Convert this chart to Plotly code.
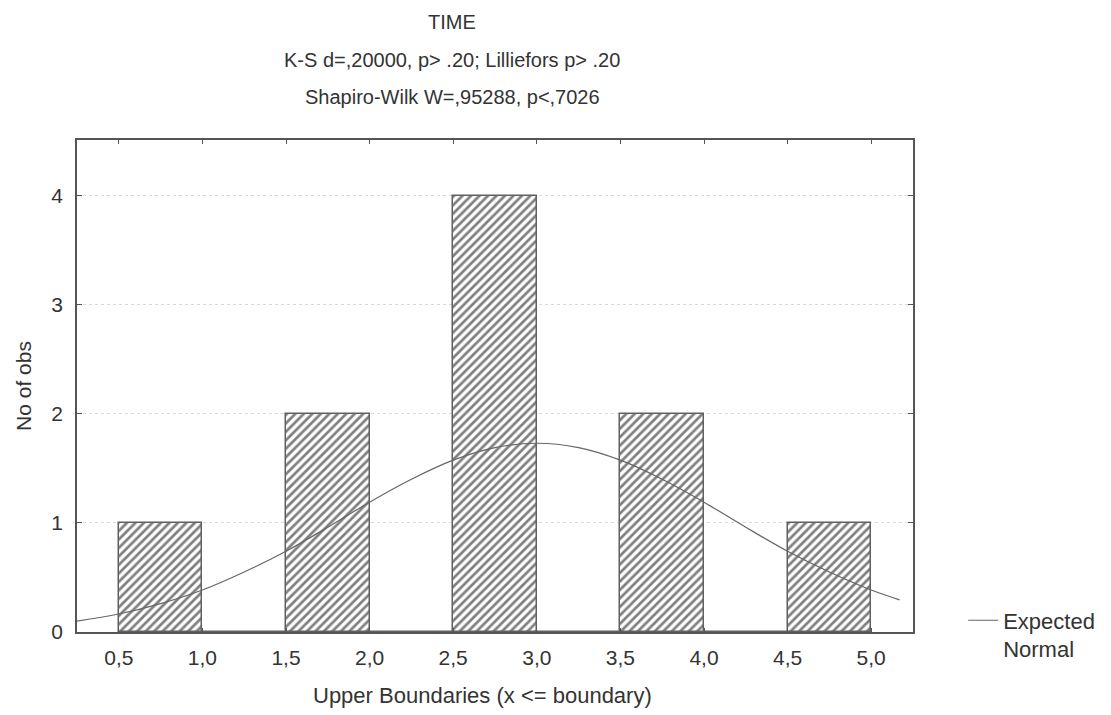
import plotly.graph_objects as go

# ---- data ----
bin_centers = [0.75, 1.25, 1.75, 2.25, 2.75, 3.25, 3.75, 4.25, 4.75]
counts = [1, 0, 2, 0, 4, 0, 2, 0, 1]
tick_vals = [0.5, 1.0, 1.5, 2.0, 2.5, 3.0, 3.5, 4.0, 4.5, 5.0]
tick_text = ["0,5", "1,0", "1,5", "2,0", "2,5", "3,0", "3,5", "4,0", "4,5", "5,0"]
curve_x = [0.25, 0.5, 0.75, 1.0, 1.25, 1.5, 1.75, 2.0, 2.25, 2.5, 2.75, 3.0,
           3.25, 3.5, 3.75, 4.0, 4.25, 4.5, 4.75, 5.0, 5.17]
curve_y = [0.10, 0.165, 0.26, 0.385, 0.55, 0.74, 0.96, 1.19, 1.40, 1.575, 1.69, 1.73,
           1.69, 1.575, 1.40, 1.19, 0.96, 0.74, 0.55, 0.385, 0.295]
title_lines = ["TIME",
               "K-S d=,20000, p> .20; Lilliefors p> .20",
               "Shapiro-Wilk W=,95288, p<,7026"]
x_title = "Upper Boundaries (x <= boundary)"
y_title = "No of obs"

FONT = "Liberation Sans, Arial, sans-serif"
AX = "#555555"
TXT = "#333333"

# page body has an 8px margin; plot area should land at x 77..913, y 140..632
fig = go.Figure()
fig.add_trace(go.Bar(
    x=bin_centers, y=counts, width=0.5, showlegend=False,
    marker=dict(color="white",
                line=dict(color="#606060", width=1.5),
                pattern=dict(shape="/", fgcolor="#000000", bgcolor="white",
                             size=6, solidity=0.45)),
))
fig.add_trace(go.Scatter(
    x=curve_x, y=curve_y, mode="lines", name="Expected<br>Normal",
    line=dict(color="#666666", width=1.2, shape="spline"),
))

annos = []
for t, py in zip(title_lines, [22, 60, 97]):
    annos.append(dict(text=t, x=(452 - 77) / 836, xref="paper", y=(632 - py) / 492,
                      yref="paper", xanchor="center", yanchor="middle", showarrow=False,
                      font=dict(size=20, color=TXT, family=FONT)))
annos.append(dict(text=x_title, x=(482 - 77) / 836, xref="paper", y=(632 - 695) / 492,
                  yref="paper", xanchor="center", yanchor="middle", showarrow=False,
                  font=dict(size=22, color=TXT, family=FONT)))

fig.update_layout(
    width=1103, height=707,
    margin=dict(l=69, r=198, t=132, b=83, autoexpand=False),
    paper_bgcolor="white", plot_bgcolor="white",
    font=dict(family=FONT, size=22, color=TXT),
    annotations=annos,
    bargap=0,
    legend=dict(x=1.06, y=-0.006, xanchor="left", yanchor="middle", valign="top",
                font=dict(size=22, color=TXT),
                bgcolor="rgba(0,0,0,0)"),
    xaxis=dict(range=[0.25, 5.25], tickvals=tick_vals, ticktext=tick_text,
               showgrid=False, zeroline=False,
               showline=True, linecolor=AX, linewidth=1.5, mirror="ticks",
               ticks="inside", ticklen=4, tickcolor=AX, ticklabelstandoff=6,
               tickfont=dict(size=21)),
    yaxis=dict(range=[0, 4.51], tickvals=[0, 1, 2, 3, 4],
               showgrid=True, gridcolor="#d9d9d9", griddash="dot", gridwidth=1,
               zeroline=False,
               showline=True, linecolor=AX, linewidth=1.5, mirror="ticks",
               ticks="inside", ticklen=5, tickcolor=AX, ticklabelstandoff=8,
               title=dict(text=y_title, standoff=14, font=dict(size=21)),
               tickfont=dict(size=21)),
)
fig.write_html("out.html")
